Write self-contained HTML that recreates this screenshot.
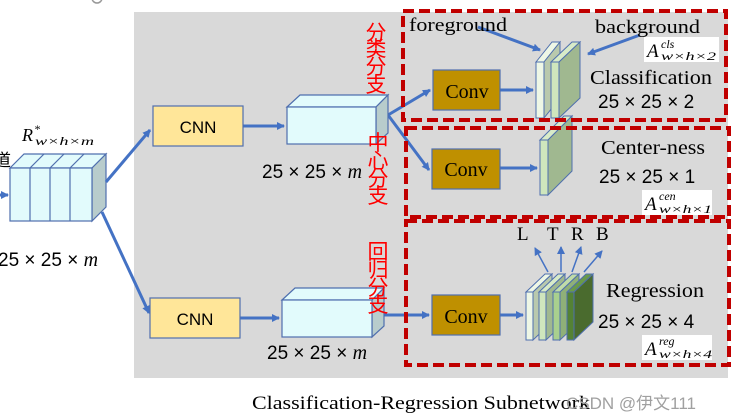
<!DOCTYPE html>
<html><head><meta charset="utf-8"><style>
html,body{margin:0;padding:0;background:#fff;width:736px;height:416px;overflow:hidden}
svg{display:block}
.s{font-family:"Liberation Serif",serif}
.m{font-family:"Liberation Serif",serif;font-style:italic}
.n{font-family:"Liberation Sans",sans-serif}
.zh{font-family:"Liberation Sans","Noto Sans CJK SC",sans-serif;fill:#ff0000;font-size:21px}
</style></head><body>
<svg width="736" height="416" viewBox="0 0 736 416" xmlns="http://www.w3.org/2000/svg">
<defs>
<marker id="ar" markerWidth="8" markerHeight="8" refX="7" refY="4" orient="auto" markerUnits="userSpaceOnUse"><path d="M0,0 L8,4 L0,8 z" fill="#4472c4"/></marker>
</defs>
<rect x="134" y="12" width="594" height="366" fill="#d9d9d9"/>
<g stroke="#4f6fae" stroke-width="1.2">
<polygon points="10,168 24,154 106,154 92,168" fill="#e2fbfc"/>
<polygon points="92,168 106,154 106,207 92,221" fill="#b8cccc"/>
<rect x="10" y="168" width="82" height="53" fill="#e2fbfc"/>
<line x1="30" y1="168" x2="30" y2="221"/><line x1="50" y1="168" x2="50" y2="221"/><line x1="70" y1="168" x2="70" y2="221"/>
<line x1="30" y1="168" x2="44" y2="154"/><line x1="50" y1="168" x2="64" y2="154"/><line x1="70" y1="168" x2="84" y2="154"/>
</g>
<line x1="0" y1="195" x2="8" y2="195" stroke="#4472c4" stroke-width="3" marker-end="url(#ar)"/>
<text x="-6" y="166" font-size="17" class="n" font-family="Noto Sans CJK SC">道</text>
<text x="22" y="141" font-size="18" class="m">R</text><text x="34" y="133" font-size="12" class="m">*</text>
<text x="35" y="145" font-size="12" class="m" textLength="59" lengthAdjust="spacingAndGlyphs">w×h×m</text>
<text x="-2" y="266" font-size="19" class="n">25 × 25 × <tspan class="m" font-size="20">m</tspan></text>
<g stroke="#4472c4" stroke-width="3" fill="none">
<line x1="106" y1="182" x2="150" y2="130" marker-end="url(#ar)"/>
<line x1="102" y1="212" x2="149" y2="313" marker-end="url(#ar)"/>
<line x1="243" y1="126" x2="284" y2="126" marker-end="url(#ar)"/>
<line x1="240" y1="318" x2="279" y2="318" marker-end="url(#ar)"/>
<line x1="388" y1="115" x2="430" y2="90" marker-end="url(#ar)"/>
<line x1="388" y1="115" x2="429" y2="170" marker-end="url(#ar)"/>
<line x1="384" y1="315" x2="429" y2="315" marker-end="url(#ar)"/>
<line x1="500" y1="90" x2="533" y2="90" marker-end="url(#ar)"/>
<line x1="500" y1="168" x2="537" y2="168" marker-end="url(#ar)"/>
<line x1="500" y1="315" x2="523" y2="315" marker-end="url(#ar)"/>
<line x1="478" y1="27" x2="540" y2="50" marker-end="url(#ar)"/>
<line x1="640" y1="35" x2="588" y2="54" marker-end="url(#ar)"/>
</g>
<rect x="153" y="106" width="90" height="40" fill="#ffe699" stroke="#4f6fae" stroke-width="1.2"/>
<text x="198" y="133" font-size="17" class="n" text-anchor="middle">CNN</text>
<rect x="150" y="298" width="90" height="40" fill="#ffe699" stroke="#4f6fae" stroke-width="1.2"/>
<text x="195" y="325" font-size="17" class="n" text-anchor="middle">CNN</text>
<g stroke="#4f6fae" stroke-width="1.2">
<polygon points="287,107 300,95 388,95 376,107" fill="#e2fbfc"/>
<polygon points="376,107 388,95 388,133 376,144" fill="#b8cccc"/>
<rect x="287" y="107" width="89" height="37" fill="#e2fbfc"/>
<polygon points="282,300 295,288 384,288 372,300" fill="#e2fbfc"/>
<polygon points="372,300 384,288 384,326 372,337" fill="#b8cccc"/>
<rect x="282" y="300" width="90" height="37" fill="#e2fbfc"/>
</g>
<text x="262" y="178" font-size="19" class="n">25 × 25 × <tspan class="m" font-size="20">m</tspan></text>
<text x="267" y="359" font-size="19" class="n">25 × 25 × <tspan class="m" font-size="20">m</tspan></text>
<g fill="#bf9000" stroke="#4f6fae" stroke-width="1.2">
<rect x="433" y="70" width="67" height="40"/>
<rect x="432" y="149" width="68" height="40"/>
<rect x="432" y="295" width="68" height="40"/>
</g>
<g class="s" font-size="20" text-anchor="middle">
<text x="467" y="98">Conv</text><text x="466" y="176">Conv</text><text x="466" y="323">Conv</text>
</g>
<g stroke="#4f6fae" stroke-width="1">
<polygon points="536,62 552,42 560,42 544,62" fill="#eef7e6"/>
<polygon points="544,62 560,42 560,98 544,118" fill="#b9c9ad"/>
<rect x="536" y="62" width="8" height="56" fill="#eef7e6"/>
<polygon points="551,62 572,42 580,42 559,62" fill="#d8ebc8"/>
<polygon points="559,62 580,42 580,98 559,118" fill="#a0b890"/>
<rect x="551" y="62" width="8" height="56" fill="#cfe6bd"/>
<polygon points="540,140 564,116 572,116 548,140" fill="#d8ebc8"/>
<polygon points="548,140 572,116 572,171 548,195" fill="#a0b890"/>
<rect x="540" y="140" width="8" height="55" fill="#cfe6bd"/>
<polygon points="526,292 545,274 552,274 533,292" fill="#eef7e6"/>
<polygon points="533,292 552,274 552,322 533,340" fill="#b9c9ad"/>
<rect x="526" y="292" width="7" height="48" fill="#eef7e6"/>
<polygon points="539,292 558,274 565,274 546,292" fill="#d8ebc8"/>
<polygon points="546,292 565,274 565,322 546,340" fill="#a0b890"/>
<rect x="539" y="292" width="7" height="48" fill="#cfe6bd"/>
<polygon points="553,292 572,274 579,274 560,292" fill="#c0dca8"/>
<polygon points="560,292 579,274 579,322 560,340" fill="#8fb078"/>
<rect x="553" y="292" width="7" height="48" fill="#a9d08e"/>
<polygon points="567,292 586,274 593,274 574,292" fill="#6a9a4a"/>
<polygon points="574,292 593,274 593,322 574,340" fill="#4a6b2e"/>
<rect x="567" y="292" width="7" height="48" fill="#548235"/>
</g>
<g stroke="#4472c4" stroke-width="1.5">
<line x1="548" y1="272" x2="535" y2="248" marker-end="url(#ar)"/>
<line x1="561" y1="272" x2="561" y2="247" marker-end="url(#ar)"/>
<line x1="572" y1="272" x2="581" y2="247" marker-end="url(#ar)"/>
<line x1="584" y1="272" x2="602" y2="251" marker-end="url(#ar)"/>
</g>
<text x="517" y="240" font-size="19" class="s">L</text>
<text x="547" y="240" font-size="19" class="s">T</text>
<text x="571" y="240" font-size="19" class="s">R</text>
<text x="596" y="240" font-size="19" class="s">B</text>
<g class="s">
<text x="409" y="31" font-size="19" textLength="98" lengthAdjust="spacingAndGlyphs">foreground</text>
<text x="595" y="33" font-size="19" textLength="105" lengthAdjust="spacingAndGlyphs">background</text>
<text x="590" y="84" font-size="20" textLength="122" lengthAdjust="spacingAndGlyphs">Classification</text>
<text x="598" y="108" font-size="19" class="n">25 × 25 × 2</text>
<text x="601" y="154" font-size="20" textLength="104" lengthAdjust="spacingAndGlyphs">Center-ness</text>
<text x="599" y="183" font-size="19" class="n">25 × 25 × 1</text>
<text x="606" y="297" font-size="20" textLength="98" lengthAdjust="spacingAndGlyphs">Regression</text>
<text x="598" y="328" font-size="19" class="n">25 × 25 × 4</text>
<text x="252" y="409" font-size="19" textLength="338" lengthAdjust="spacingAndGlyphs">Classification-Regression Subnetwork</text>
</g>
<g>
<rect x="644" y="37" width="75" height="25" fill="#fff"/>
<rect x="642" y="190" width="70" height="25" fill="#fff"/>
<rect x="642" y="335" width="70" height="25" fill="#fff"/>
<g class="m">
<text x="647" y="57" font-size="19">A</text><text x="661" y="48" font-size="12">cls</text><text x="661" y="60" font-size="12" textLength="55" lengthAdjust="spacingAndGlyphs">w×h×2</text>
<text x="645" y="210" font-size="19">A</text><text x="659" y="200" font-size="12">cen</text><text x="659" y="213" font-size="12" textLength="53" lengthAdjust="spacingAndGlyphs">w×h×1</text>
<text x="645" y="355" font-size="19">A</text><text x="659" y="345" font-size="12">reg</text><text x="659" y="358" font-size="12" textLength="53" lengthAdjust="spacingAndGlyphs">w×h×4</text>
</g>
</g>
<g fill="none" stroke="#c00000" stroke-width="4" stroke-dasharray="11,5">
<rect x="403" y="11" width="323" height="109"/>
<rect x="406" y="128" width="323" height="89"/>
<rect x="406" y="221" width="323" height="144"/>
</g>
<g class="zh" text-anchor="middle">
<text x="376" y="40">分</text><text x="376" y="56">类</text><text x="376" y="74">分</text><text x="376" y="92">支</text>
<text x="378" y="150">中</text><text x="378" y="168">心</text><text x="378" y="186">分</text><text x="378" y="203">支</text>
<text x="378" y="259">回</text><text x="378" y="277">归</text><text x="378" y="295">分</text><text x="378" y="312">支</text>
</g>
<text x="566" y="409" font-size="17" class="n" fill="#a0a0a0" font-family="Noto Sans CJK SC">CSDN @伊文111</text>
<circle cx="97" cy="-2" r="5" fill="none" stroke="#999" stroke-width="1.5"/>
</svg>
</body></html>
